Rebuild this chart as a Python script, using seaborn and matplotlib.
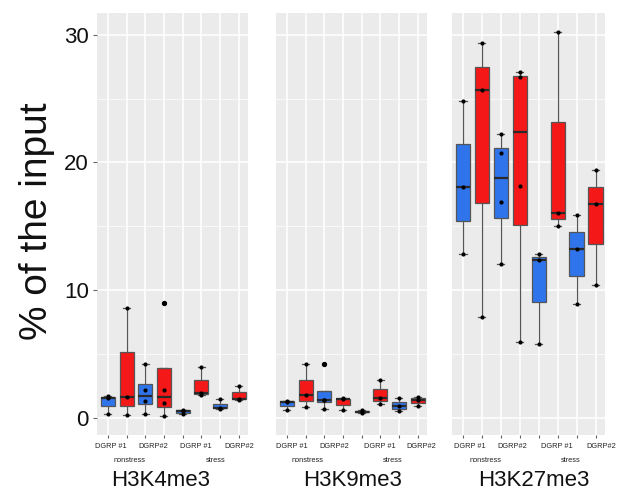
import matplotlib
matplotlib.use('Agg')
import matplotlib.pyplot as plt
from matplotlib.ticker import MultipleLocator
import pandas as pd
import seaborn as sns

# positions on each panel: DGRP#1 / DGRP#2 under nonstress and stress, blue then red box
positions = ['n1_blue', 'n1_red', 'n2_blue', 'n2_red', 's1_blue', 's1_red', 's2_blue', 's2_red']
box_colors = ['#2F74EA', '#F51818'] * 4
marks = ['H3K4me3', 'H3K9me3', 'H3K27me3']

# % of the input (one list of replicates per box)
h3k4me3 = [[0.3, 1.6, 1.75], [0.27, 1.63, 8.64], [0.34, 1.33, 2.17, 4.2], [0.12, 1.15, 2.2, 9.04],
           [0.28, 0.55, 0.66], [1.78, 1.98, 3.97], [0.72, 0.78, 1.48], [1.4, 1.5, 2.53]]
h3k9me3 = [[0.63, 1.25, 1.36], [0.89, 1.8, 4.2], [0.68, 1.42, 1.44, 4.2], [0.6, 1.46, 1.57],
           [0.42, 0.5, 0.6], [1.07, 1.55, 2.95], [0.55, 0.93, 1.59], [0.97, 1.43, 1.67]]
h3k27me3 = [[12.8, 18.05, 24.85], [7.94, 25.65, 29.33], [12.04, 16.87, 20.74, 22.23], [5.93, 18.15, 26.67, 27.12],
            [5.78, 12.33, 12.83], [15.03, 16.07, 30.23], [8.93, 13.24, 15.91], [10.42, 16.77, 19.41]]

group_labels = ['DGRP #1', 'DGRP#2', 'DGRP #1', 'DGRP#2']
condition_labels = ['nonstress', 'stress']
yticks = [0, 10, 20, 30]

rows = []
for mark, values in zip(marks, [h3k4me3, h3k9me3, h3k27me3]):
    for pos, reps in zip(positions, values):
        for v in reps:
            rows.append({'mark': mark, 'pos': pos, 'value': v})
df = pd.DataFrame(rows)

plt.rcParams['font.family'] = ['Liberation Sans', 'DejaVu Sans']
W, H = 619, 495
fig = plt.figure(figsize=(W / 100, H / 100), dpi=100)

# panel boxes in pixels: left, width ; shared top/bottom
panel_px = [(97, 151), (276, 151), (452, 153)]
top_px, bottom_px = 13, 435
# text x offsets inside each panel (pixels from panel left)
group_off = [(13.5, 56, 98.5, 142), (15.5, 58, 103.5, 145), (18, 60.5, 105, 149)]
cond_off = [(33, 119), (32, 117), (34, 119)]
title_off = [64, 77, 82]

for i, mark in enumerate(marks):
    left, width = panel_px[i]
    ax = fig.add_axes([left / W, 1 - bottom_px / H, width / W, (bottom_px - top_px) / H])
    sub = df[df['mark'] == mark]
    sns.boxplot(data=sub, x='pos', y='value', hue='pos', order=positions, hue_order=positions,
                palette=box_colors, width=0.75, linewidth=0.9, linecolor='#555555',
                medianprops=dict(color='#2a2a2a', linewidth=1.6),
                flierprops=dict(marker='o', markerfacecolor='black', markeredgecolor='black', markersize=2.8),
                saturation=1, legend=False, ax=ax)
    sns.stripplot(data=sub, x='pos', y='value', order=positions, color='black', size=3,
                  jitter=False, ax=ax, zorder=4)

    ax.set_facecolor('#EBEBEB')
    for s in ax.spines.values():
        s.set_visible(False)
    ax.set_axisbelow(True)
    ax.set_ylim(-1.33, 31.7)
    ax.set_xlim(-0.58, 7.5)
    ax.set_yticks(yticks)
    ax.yaxis.set_minor_locator(MultipleLocator(5))
    ax.grid(True, which='major', color='white', linewidth=1.1)
    ax.grid(True, which='minor', axis='y', color='white', linewidth=0.5)
    ax.tick_params(axis='x', length=2.5, color='#666', labelbottom=False)
    ax.tick_params(axis='y', which='minor', length=0)
    if i == 0:
        ax.tick_params(axis='y', length=3, color='#666', labelsize=16, pad=3, labelcolor='#111')
    else:
        ax.tick_params(axis='y', length=0, labelleft=False)
    ax.set_xlabel('')
    ax.set_ylabel('')

    for off, lab in zip(group_off[i], group_labels):
        fig.text((left + off) / W, 1 - 447 / H, lab, ha='center', va='center', fontsize=5.3, color='#222')
    for off, lab in zip(cond_off[i], condition_labels):
        fig.text((left + off) / W, 1 - 461 / H, lab, ha='center', va='center', fontsize=5.3, color='#222')
    fig.text((left + title_off[i]) / W, 1 - 481 / H, mark, ha='center', va='center', fontsize=16, color='#111')

fig.text(37 / W, 1 - 221 / H, '% of the input', rotation=90, ha='center', va='center', fontsize=28, color='#111')

fig.savefig('out.png', dpi=100)
plt.close()
